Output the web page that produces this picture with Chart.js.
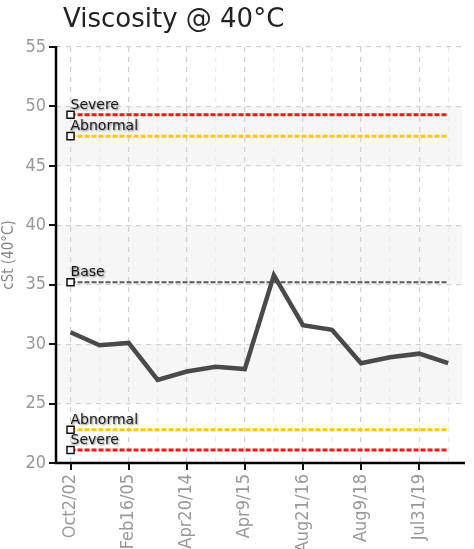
<!DOCTYPE html>
<html><head><meta charset="utf-8">
<script src="https://cdn.jsdelivr.net/npm/chart.js@4/dist/chart.umd.min.js"></script>
<style>html,body{margin:0;padding:0;background:#fff}#wrap{width:474px;height:549px;position:relative}</style>
</head><body><div id="wrap"><canvas id="c" width="474" height="549"></canvas></div>
<script>
const chartTitle = 'Viscosity @ 40°C';
const yAxisTitle = 'cSt (40°C)';
const categories = ['Oct2/02', '', 'Feb16/05', '', 'Apr20/14', '', 'Apr9/15', '', 'Aug21/16', '', 'Aug9/18', '', 'Jul31/19', ''];
const viscosity = [31.0, 29.9, 30.1, 27.0, 27.7, 28.1, 27.9, 35.8, 31.6, 31.2, 28.4, 28.9, 29.2, 28.4];
const limitNames = ['Severe', 'Abnormal', 'Base', 'Abnormal', 'Severe'];
const limitValues = [49.3, 47.5, 35.2, 22.8, 21.1];
const limitColors = ['#ff1414', '#ffc800', '#5a5a5a', '#ffc800', '#ff1414'];
const limitWidths = [3, 3, 2, 3, 3];
const yTicks = [20, 25, 30, 35, 40, 45, 50, 55];

const tickFont = { family: '"Liberation Sans Narrow", "DejaVu Sans Condensed", "Liberation Sans", sans-serif', size: 18 };

const bandPlugin = {
  id: 'bands',
  beforeDraw(chart) {
    const { ctx, chartArea, scales: { y } } = chart;
    ctx.save();
    ctx.fillStyle = '#f6f6f6';
    for (let i = 0; i < y.ticks.length - 1; i++) {
      if (i % 2 === 1) {
        const top = y.getPixelForValue(y.ticks[i + 1].value);
        const bot = y.getPixelForValue(y.ticks[i].value);
        ctx.fillRect(chartArea.left, top, chartArea.right - chartArea.left, bot - top);
      }
    }
    ctx.restore();
  }
};

const axisLinePlugin = {
  id: 'axisLines',
  afterDraw(chart) {
    const { ctx, chartArea: a, scales: { x, y } } = chart;
    ctx.save();
    ctx.setLineDash([]);
    ctx.strokeStyle = '#000';
    ctx.lineWidth = 2.5;
    ctx.beginPath();
    ctx.moveTo(Math.round(a.left), Math.round(a.top) - 1);
    ctx.lineTo(Math.round(a.left), Math.round(a.bottom));
    ctx.lineTo(Math.round(a.right) + 2, Math.round(a.bottom));
    ctx.stroke();
    ctx.lineWidth = 2;
    ctx.strokeStyle = '#111';
    ctx.beginPath();
    y.ticks.forEach(t => {
      const py = Math.round(y.getPixelForValue(t.value));
      ctx.moveTo(a.left - 7, py);
      ctx.lineTo(a.left, py);
    });
    x.ticks.forEach((t, i) => {
      if (!categories[i]) return;
      const px = Math.round(x.getPixelForValue(i));
      ctx.moveTo(px, a.bottom);
      ctx.lineTo(px, a.bottom + 7);
    });
    ctx.stroke();
    ctx.restore();
  }
};

const titlePlugin = {
  id: 'customTitle',
  afterDraw(chart) {
    const ctx = chart.ctx;
    ctx.save();
    ctx.font = '26px "DejaVu Sans"';
    ctx.fillStyle = '#222';
    ctx.textAlign = 'left';
    ctx.textBaseline = 'alphabetic';
    ctx.fillText(chartTitle, 63, 27);
    ctx.restore();
  }
};

const limitLabelPlugin = {
  id: 'limitLabels',
  afterDatasetsDraw(chart) {
    const ctx = chart.ctx;
    ctx.save();
    ctx.font = '14px "DejaVu Sans"';
    ctx.fillStyle = '#1a1a1a';
    ctx.textAlign = 'left';
    ctx.textBaseline = 'alphabetic';
    ctx.shadowColor = 'rgba(0,0,0,0.5)';
    ctx.shadowOffsetX = 1;
    ctx.shadowOffsetY = 1;
    ctx.shadowBlur = 2;
    chart.data.datasets.forEach((ds, i) => {
      if (!ds.isLimit) return;
      const p = chart.getDatasetMeta(i).data[0];
      ctx.fillText(ds.label, p.x, p.y - 6);
    });
    ctx.restore();
  }
};

const datasets = [{
  label: 'Viscosity',
  data: viscosity,
  borderColor: '#4a4a4a',
  borderWidth: 4.5,
  pointRadius: 0,
  tension: 0,
  fill: false
}];
limitNames.forEach((name, k) => {
  datasets.push({
    label: name,
    isLimit: true,
    data: categories.map(() => limitValues[k]),
    borderColor: limitColors[k],
    borderWidth: limitWidths[k],
    borderDash: [5, 2],
    pointStyle: 'rect',
    pointRadius: c => c.dataIndex === 0 ? 5 : 0,
    pointHoverRadius: 0,
    pointBackgroundColor: '#fff',
    pointBorderColor: '#111',
    pointBorderWidth: 1.5,
    tension: 0,
    fill: false
  });
});

new Chart(document.getElementById('c'), {
  type: 'line',
  data: { labels: categories, datasets },
  plugins: [bandPlugin, axisLinePlugin, titlePlugin, limitLabelPlugin],
  options: {
    responsive: false,
    animation: false,
    layout: { padding: { top: 47, right: 2, left: 0, bottom: 0 } },
    plugins: { legend: { display: false }, title: { display: false }, tooltip: { enabled: false } },
    scales: {
      x: {
        offset: true,
        grid: {
          offset: false,
          color: c => (c.index % 2 ? '#ebebeb' : '#d2d2d2'),
          drawTicks: true,
          tickColor: 'rgba(0,0,0,0)',
          tickLength: 7,
          lineWidth: 1.2
        },
        border: { display: false, dash: [5, 5] },
        ticks: { autoSkip: false, maxRotation: 90, minRotation: 90, color: '#999', font: tickFont, padding: 4 },
        afterFit: s => { s.height = 86; }
      },
      y: {
        min: 20,
        max: 55,
        afterBuildTicks: s => { s.ticks = yTicks.map(v => ({ value: v })); },
        ticks: { color: '#999', font: tickFont, padding: 3 },
        grid: { color: '#d2d2d2', tickColor: 'rgba(0,0,0,0)', tickLength: 7, lineWidth: 1.2 },
        border: { display: false, dash: [5, 5] },
        title: { display: true, text: yAxisTitle, color: '#888', font: { family: tickFont.family, size: 15 }, padding: 0 },
        afterFit: s => { s.width = 56; }
      }
    }
  }
});
</script>
</body></html>
